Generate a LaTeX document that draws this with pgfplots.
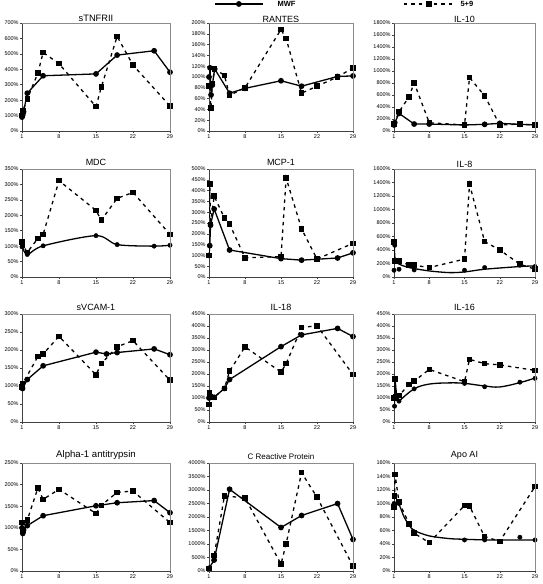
\documentclass[border=0pt]{standalone}
\usepackage{pgfplots}
\pgfplotsset{compat=1.18}
\usepackage{fontspec}
\setmainfont{Liberation Sans}

\pgfplotsset{
 panel/.style={
   scale only axis, height=108pt, xmin=1, xmax=29, xtick={1,8,15,22,29}, ymin=0,
   axis x line*=bottom, axis y line*=left,
   axis line style={-, black!75, line width=0.6pt},
   tick align=outside, major tick length=2pt,
   tick style={black!75, line width=0.5pt},
   ticklabel style={font=\fontsize{5.5}{6}\selectfont, inner sep=1.2pt},
   /pgf/number format/assume math mode=true,
   /pgf/number format/1000 sep={},
   scaled ticks=false,
   yticklabel={\pgfmathprintnumber{\tick}\%},
   title style={font=\fontsize{9}{10}\selectfont, yshift=-6pt},
   clip mode=individual,
   after end axis/.code={\draw[black!45, line width=0.5pt] (rel axis cs:0,1) -- (rel axis cs:1,1) -- (rel axis cs:1,0);},
 },
 mwf/.style={black, line width=1.3pt, mark=*, mark size=2.2pt, mark options={solid}},
 mwfline/.style={black, line width=1.3pt, no marks},
 mwfmark/.style={black, only marks, mark=*, mark size=2.2pt},
 nine/.style={black, line width=1.3pt, dash pattern=on 3.5pt off 4pt, mark=square*, mark size=2.1pt, mark options={solid}},
 legmwf/.style={legend image code/.code={\draw[mark repeat=2, mark phase=2, ##1] plot coordinates {(0pt,0pt) (24pt,0pt) (48pt,0pt)};}},
 legnine/.style={legend image code/.code={\draw[mark repeat=2, mark phase=2, ##1] plot coordinates {(0pt,0pt) (25pt,0pt) (50pt,0pt)};}},
}

\begin{document}
\begin{tikzpicture}
\useasboundingbox (0,0) rectangle (542pt,584pt);

% ---------------- Row 1 ----------------
\begin{axis}[panel, at={(22pt,453pt)}, width=148pt, ymax=700, ytick={0,100,...,700}, title={sTNFRII},
  title style={yshift=-2.5pt, font=\fontsize{9.3}{10}\selectfont}]
\addplot[nine] coordinates {(1,100) (1.15,130) (2,208) (4,375) (5,509) (8,436) (15,158) (16,284) (19,613) (22,427) (29,162)};
\addplot[mwf] coordinates {(1,90) (1.15,105) (1.3,125) (2,245) (5,358) (15,370) (19,492) (26,520) (29,381)};
\end{axis}

\begin{axis}[panel, at={(209pt,453pt)}, width=144pt, ymax=200, ytick={0,20,...,200}, title={RANTES},
  title style={yshift=-3.5pt},
  legend style={at={(0.035,1.176)}, anchor=west, draw=none, fill=none, inner sep=0pt,
    font=\fontsize{7.5}{8}\selectfont\bfseries}]
\addlegendimage{mwf, legmwf}
\addlegendentry{\hspace*{12pt}\raisebox{-2pt}{MWF}}
\addplot[nine] coordinates {(1,83) (1.4,43) (1.65,88) (2.1,115) (4,103) (5,66) (8,80) (15,188) (16,171) (19,70) (22,83) (26,100) (29,117)};
\addplot[mwf] coordinates {(1,100) (1.2,117) (1.4,67) (1.65,85) (2.1,115) (5,70) (8,79) (15,93) (19,83) (26,101) (29,102)};
\end{axis}

\begin{axis}[panel, at={(394pt,453pt)}, width=141pt, ymax=1800, ytick={0,200,...,1800}, title={IL-10},
  title style={yshift=-3.5pt},
  legend style={at={(0.064,1.176)}, anchor=west, draw=none, fill=none, inner sep=0pt,
    font=\fontsize{7.5}{8}\selectfont\bfseries}]
\addlegendimage{nine, legnine}
\addlegendentry{\hspace*{4pt}\raisebox{-2pt}{5+9}}
\addplot[nine] coordinates {(1,116) (2,321) (4,570) (5,803) (8,138) (15,100) (16,891) (19,587) (22,100) (26,116) (29,100)};
\addplot[mwf] coordinates {(1,100) (1.15,138) (2,293) (5,116) (8,116) (15,100) (19,111) (22,127) (26,111) (29,100)};
\end{axis}

% ---------------- Row 2 ----------------
\begin{axis}[panel, at={(22pt,307pt)}, width=148pt, ymax=350, ytick={0,50,...,350}, title={MDC}]
\addplot[nine] coordinates {(1,114) (1.1,103) (2,80) (4,125) (5,138) (8,312) (15,216) (16,184) (19,255) (22,274) (29,138)};
\addplot[mwfline, smooth, tension=0.5] coordinates {(1,100) (2,73) (5,101) (15,134) (19,105) (26,100) (29,103)};
\addplot[mwfmark] coordinates {(1,98) (1.1,105) (2,73) (5,101) (15,134) (19,105) (26,100) (29,103)};
\end{axis}

\begin{axis}[panel, at={(209pt,307pt)}, width=144pt, ymax=500, ytick={0,50,...,500}, title={MCP-1}]
\addplot[nine] coordinates {(1,100) (1.15,430) (1.3,242) (2,375) (4,273) (5,245) (8,89) (15,94) (16,458) (19,223) (22,83) (29,156)};
\addplot[mwf] coordinates {(1,100) (1.15,145) (1.3,240) (2,315) (5,125) (15,85) (19,78) (26,88) (29,112)};
\end{axis}

\begin{axis}[panel, at={(394pt,307pt)}, width=141pt, ymax=1600, ytick={0,200,...,1600}, title={IL-8},
  title style={yshift=-2.5pt}]
\addplot[nine] coordinates {(1,515) (1.1,240) (1.5,240) (2,240) (4,175) (5,175) (8,140) (15,265) (16,1375) (19,525) (22,400) (26,190) (29,115)};
\addplot[mwfline, smooth, tension=0.5] coordinates {(1.05,500) (1.2,280) (1.8,200) (4,140) (8,90) (12,65) (15,75) (19,115) (26,155) (29,165)};
\addplot[mwfmark] coordinates {(1,100) (1.05,515) (1.15,470) (2,115) (5,105) (15,100) (19,140) (26,175) (29,155)};
\end{axis}

% ---------------- Row 3 ----------------
\begin{axis}[panel, at={(22pt,162pt)}, width=148pt, ymax=300, ytick={0,50,...,300}, title={sVCAM-1}]
\addplot[nine] coordinates {(1,97) (1.1,105) (4,182) (5,189) (8,238) (15,131) (16,162) (19,209) (22,226) (29,116)};
\addplot[mwf] coordinates {(1,99) (1.1,93) (2,118) (5,156) (15,194) (17,189) (19,193) (26,203) (29,187)};
\end{axis}

\begin{axis}[panel, at={(209pt,162pt)}, width=144pt, ymax=450, ytick={0,50,...,450}, title={IL-18}]
\addplot[nine] coordinates {(1,73) (1.1,122) (1.2,105) (2,103) (4,140) (5,212) (8,313) (15,208) (16,243) (19,394) (22,401) (29,198)};
\addplot[mwf] coordinates {(1,100) (1.15,108) (2,103) (4,140) (5,177) (15,314) (19,363) (26,390) (29,356)};
\end{axis}

\begin{axis}[panel, at={(394pt,162pt)}, width=141pt, ymax=450, ytick={0,50,...,450}, title={IL-16}]
\addplot[nine] coordinates {(1,100) (1.2,180) (1.4,105) (2,110) (4,157) (5,170) (8,219) (15,168) (16,261) (19,243) (22,238) (29,215)};
\addplot[mwfline] coordinates {(1,100) (1.1,66) (1.2,180) (1.6,90) (2,87)};
\addplot[mwfline, smooth, tension=0.6] coordinates {(2,87) (5,138) (8,158) (12,163) (15,161) (19,150) (22,146) (26,164) (29,183)};
\addplot[mwfmark] coordinates {(1,100) (1.1,66) (1.2,180) (2,87) (5,138) (15,161) (19,147) (26,166) (29,182)};
\end{axis}

% ---------------- Row 4 ----------------
\begin{axis}[panel, at={(22pt,13pt)}, width=148pt, ymax=250, ytick={0,50,...,250}, title={Alpha-1 antitrypsin},
  title style={font=\fontsize{9.6}{10}\selectfont}]
\addplot[nine] coordinates {(1,112) (1.15,95) (2,118) (4,192) (5,166) (8,189) (15,133) (16,152) (19,182) (22,185) (29,112)};
\addplot[mwf] coordinates {(1,100) (1.15,87) (1.3,95) (2,105) (5,128) (15,151) (19,158) (26,163) (29,135)};
\end{axis}

\begin{axis}[panel, at={(209pt,13pt)}, width=144pt, ymax=4000, ytick={0,500,...,4000}, title={C Reactive Protein},
  title style={font=\fontsize{8}{9}\selectfont}]
\addplot[nine] coordinates {(1,100) (2,566) (4,2782) (8,2708) (15,258) (16,1009) (19,3643) (22,2732) (29,185)};
\addplot[mwf] coordinates {(1,100) (2,406) (5,3028) (15,1612) (19,2055) (26,2498) (29,1169)};
\end{axis}

\begin{axis}[panel, at={(394pt,13pt)}, width=141pt, ymax=160, ytick={0,20,...,160}, title={Apo AI}]
\addplot[nine] coordinates {(1,95) (1.1,111) (1.2,143) (2,102) (4,70) (5,56) (8,42) (15,97) (16,96) (19,51) (22,44) (29,125)};
\addplot[mwfline, smooth, tension=0.5] coordinates {(1,100) (2,98) (3,80) (4,68) (5,60) (8,52) (12,48) (15,47) (20,46) (29,46)};
\addplot[mwfmark] coordinates {(1,100) (1.1,96) (2,100) (4,69) (5,58) (15,46) (19,46) (26,50) (29,46)};
\end{axis}
\end{tikzpicture}
\end{document}
